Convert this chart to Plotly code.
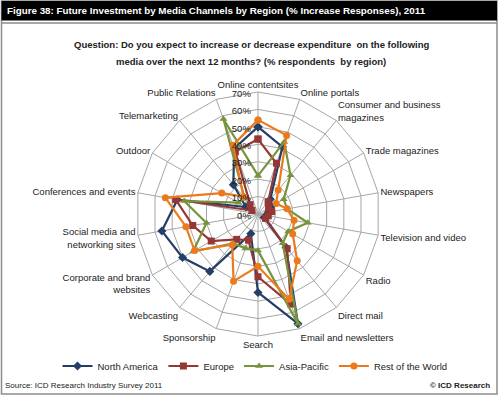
import plotly.graph_objects as go

categories = [
    "Online contentsites", "Online portals", "Consumer and business<br>magazines",
    "Trade magazines", "Newspapers", "Television and video", "Radio", "Direct mail",
    "Email and newsletters", "Search", "Sponsorship", "Webcasting",
    "Corporate and brand<br>websites", "Social media and<br>networking sites",
    "Conferences and events", "Outdoor", "Telemarketing", "Public Relations",
]

north_america = [50, 41, 11, 9, 6, 5, 4, 25, 67, 45, 12, 43, 50, 56, 47, 8, 22, 40]
europe        = [43, 31, 9, 7, 8, 6, 5, 26, 55, 36, 16, 19, 31, 38, 48, 4, 7, 38]
asia_pacific  = [22, 44, 29, 17, 17, 29, 20, 22, 67, 21, 21, 22, 43, 30, 43, 13, 12, 58]
rest_of_world = [54, 48, 18, 12, 17, 21, 23, 35, 52, 30, 41, 23, 42, 42, 54, 24, 13, 42]

radial_ticks = [0, 10, 20, 30, 40, 50, 60, 70]
radial_ticklabels = ["0%", "10%", "20%", "30%", "40%", "50%", "60%", "70%"]

series = [
    ("North America", north_america, "#243F66", "diamond"),
    ("Europe", europe, "#953735", "square"),
    ("Asia-Pacific", asia_pacific, "#77933C", "triangle-up"),
    ("Rest of the World", rest_of_world, "#EC7A1C", "circle"),
]

W, H = 500, 397
cx, cy, R = 258, 214, 122

fig = go.Figure()
for name, vals, col, sym in series:
    fig.add_trace(go.Scatterpolar(
        r=vals + vals[:1], theta=categories + categories[:1], name=name,
        mode="lines+markers",
        line=dict(color=col, width=2.2),
        marker=dict(color=col, symbol=sym, size=7),
    ))

grid_col = "#A6A6A6"
fig.update_layout(
    width=W, height=H,
    margin=dict(l=0, r=0, t=0, b=0),
    paper_bgcolor="white",
    font=dict(family="Liberation Sans, Arial, sans-serif", size=9, color="#222"),
    polar=dict(
        domain=dict(x=[(cx - R) / W, (cx + R) / W], y=[(H - cy - R) / H, (H - cy + R) / H]),
        bgcolor="white",
        gridshape="linear",
        angularaxis=dict(
            rotation=90, direction="clockwise",
            linecolor=grid_col, linewidth=1, gridcolor=grid_col, gridwidth=1,
            showline=True, ticks="", tickfont=dict(size=9.5, color="#222"),
        ),
        radialaxis=dict(
            range=[0, 70], tickvals=radial_ticks, ticktext=radial_ticklabels,
            angle=90, side="counterclockwise",
            showline=False, gridcolor=grid_col, gridwidth=1, ticks="",
            tickfont=dict(size=9.5, color="#222"),
        ),
    ),
    showlegend=True,
    legend=dict(
        orientation="h", x=0.51, xanchor="center", y=(H - 366) / H, yanchor="middle",
        font=dict(size=9.5, color="#222"), bgcolor="rgba(0,0,0,0)",
        itemwidth=30, tracegroupgap=0,
    ),
    shapes=[
        dict(type="rect", xref="paper", yref="paper", x0=1.5 / W, x1=497 / W,
             y0=(H - 394) / H, y1=(H - 1) / H, line=dict(color="#8C8C8C", width=1.5)),
        dict(type="rect", xref="paper", yref="paper", x0=1.5 / W, x1=497 / W,
             y0=(H - 20.5) / H, y1=(H - 1) / H, fillcolor="black", line=dict(width=0)),
        dict(type="line", xref="paper", yref="paper", x0=1.5 / W, x1=497 / W,
             y0=(H - 23) / H, y1=(H - 23) / H, line=dict(color="#8C8C8C", width=1.5)),
    ],
    annotations=[
        dict(text="<b>Figure 38: Future Investment by Media Channels by Region (% Increase Responses), 2011</b>",
             x=5 / W, y=(H - 11) / H, xref="paper", yref="paper", xanchor="left", yanchor="middle",
             showarrow=False, font=dict(size=9.8, color="white")),
        dict(text="<b>Question: Do you expect to increase or decrease expenditure  on the following</b>",
             x=251 / W, y=(H - 44) / H, xref="paper", yref="paper", xanchor="center", yanchor="middle",
             showarrow=False, font=dict(size=9.5, color="#222")),
        dict(text="<b>media over the next 12 months? (% respondents  by region)</b>",
             x=251 / W, y=(H - 61) / H, xref="paper", yref="paper", xanchor="center", yanchor="middle",
             showarrow=False, font=dict(size=9.5, color="#222")),
        dict(text="Source: ICD Research Industry Survey 2011",
             x=3 / W, y=(H - 385) / H, xref="paper", yref="paper", xanchor="left", yanchor="middle",
             showarrow=False, font=dict(size=8, color="#222")),
        dict(text="<b>© ICD Research</b>",
             x=492 / W, y=(H - 385) / H, xref="paper", yref="paper", xanchor="right", yanchor="middle",
             showarrow=False, font=dict(size=8, color="#222")),
    ],
)

fig.write_html("out.html", config={"displayModeBar": False},
               post_script="document.body.style.margin='0';")
